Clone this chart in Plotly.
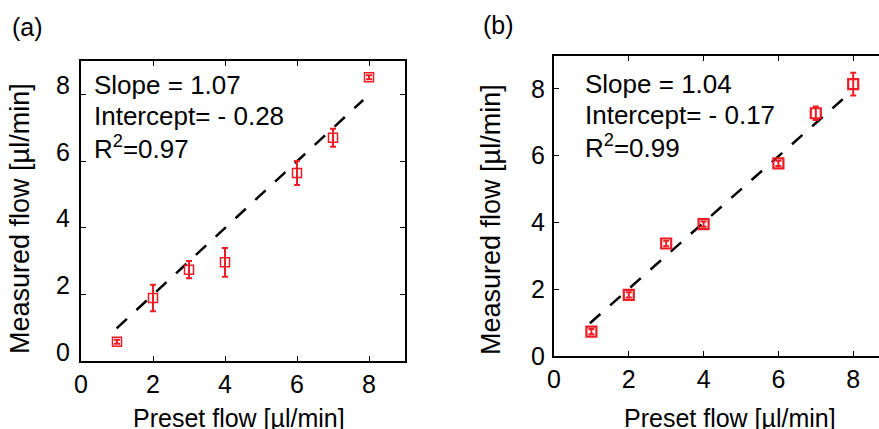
import plotly.graph_objects as go

# ---- data ----
preset = [1, 2, 3, 4, 6, 7, 8]
measured_a = [0.58, 1.89, 2.74, 2.96, 5.64, 6.70, 8.51]
err_a = [0.06, 0.40, 0.26, 0.43, 0.36, 0.27, 0.06]
fit_a_x = [0.99, 7.84]
fit_a_y = [0.98, 7.83]

measured_b = [0.73, 1.83, 3.37, 3.95, 5.77, 7.27, 8.14]
err_b = [0.08, 0.08, 0.08, 0.08, 0.08, 0.20, 0.34]
fit_b_x = [0.96, 7.72]
fit_b_y = [0.98, 7.69]

stats_a = ["Slope = 1.07", "Intercept= - 0.28", "R<sup>2</sup>=0.97"]
stats_b = ["Slope = 1.04", "Intercept= - 0.17", "R<sup>2</sup>=0.99"]
tick_vals = [0, 2, 4, 6, 8]
x_title = "Preset flow [µl/min]"
y_title = "Measured flow [µl/min]"

W, H = 879, 429
RED = "#ee1d25"
FONT = "Liberation Sans, Arial, sans-serif"

fig = go.Figure()

def add_panel(xa, ya, meas, err, fx, fy, msize, mlw):
    fig.add_trace(go.Scatter(
        x=fx, y=fy, mode="lines", xaxis=xa, yaxis=ya,
        line=dict(color="black", width=2.5, dash="14px,13px"),
        showlegend=False, hoverinfo="skip"))
    fig.add_trace(go.Scatter(
        x=preset, y=meas, mode="markers", xaxis=xa, yaxis=ya,
        marker=dict(symbol="square-open", size=msize, color=RED,
                    line=dict(width=mlw, color=RED)),
        error_y=dict(type="data", array=err, visible=True, color=RED,
                     thickness=2, width=3),
        showlegend=False))

add_panel("x", "y", measured_a, err_a, fit_a_x, fit_a_y, 9, 1.5)
add_panel("x2", "y2", measured_b, err_b, fit_b_x, fit_b_y, 10, 2.2)

def px_x(p):
    return p / W

def px_y(p):
    return 1 - p / H

axis_common = dict(
    showline=True, linecolor="black", linewidth=2,
    ticks="inside", ticklen=5, tickwidth=1, tickcolor="black",
    tickvals=tick_vals, showgrid=False, zeroline=False,
    tickfont=dict(family=FONT, size=25, color="black"),
    automargin=False,
)

fig.update_layout(
    width=W, height=H,
    margin=dict(l=0, r=0, t=0, b=0, autoexpand=False),
    paper_bgcolor="white", plot_bgcolor="white",
    xaxis=dict(domain=[px_x(81), px_x(405)], range=[0, 9], anchor="y",
               mirror="ticks", **axis_common),
    yaxis=dict(domain=[px_y(361), px_y(61)], range=[0, 9], anchor="x",
               mirror="ticks", ticklabelshift=-9, ticklabelstandoff=4,
               **axis_common),
    xaxis2=dict(domain=[px_x(554), 1.0], range=[0, 325 / 37.4], anchor="y2",
                mirror="ticks", **axis_common),
    yaxis2=dict(domain=[px_y(356), px_y(55.5)], range=[0, 9], anchor="x2",
                mirror=False, ticklabelstandoff=2, **axis_common),
)

ann = []
def text(x, y, s, size=26, xanchor="left", angle=0):
    ann.append(dict(x=px_x(x), y=px_y(y), xref="paper", yref="paper", text=s,
                    showarrow=False, xanchor=xanchor, yanchor="middle",
                    textangle=angle,
                    font=dict(family=FONT, size=size, color="black")))

# panel labels
text(27.5, 26.7, "(a)", size=25, xanchor="center")
text(498.5, 25, "(b)", size=25, xanchor="center")

# stats text
for i, s in enumerate(stats_a):
    text(91.7, 84.5 + 31.3 * i, s)
for i, s in enumerate(stats_b):
    text(583.3, 83.5 + 31.3 * i, s)

# axis titles
text(239, 418, x_title, size=25, xanchor="center")
text(730, 418, x_title, size=25, xanchor="center")
text(20, 219, y_title, size=27, xanchor="center", angle=-90)
text(491, 219, y_title, size=27, xanchor="center", angle=-90)

fig.update_layout(annotations=ann)
fig.write_html(
    "out.html",
    config={"displayModeBar": False},
    post_script="document.body.style.margin='0';document.body.style.overflow='hidden';",
)
